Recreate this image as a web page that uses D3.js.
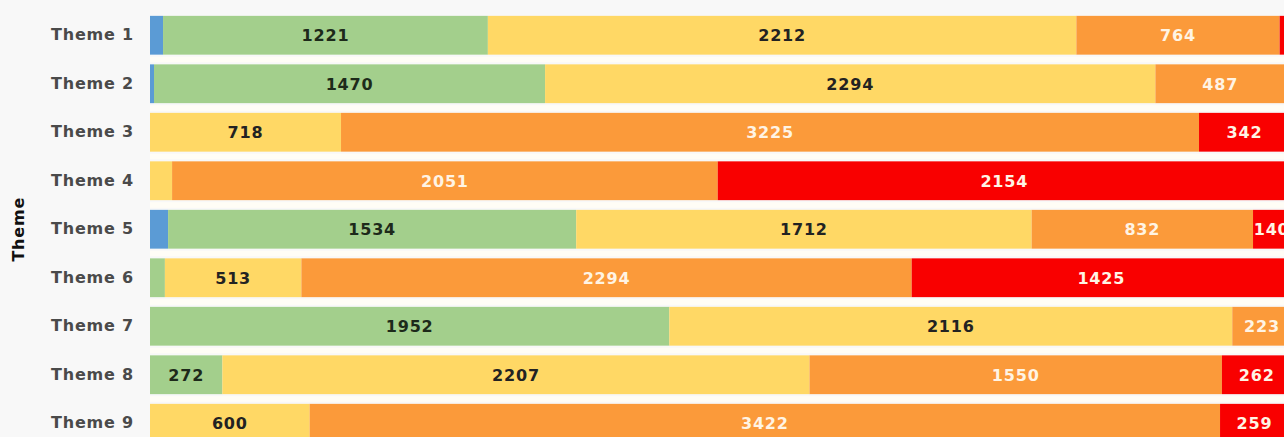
<!DOCTYPE html>
<html>
<head>
<meta charset="utf-8">
<script src="https://cdn.jsdelivr.net/npm/d3@7"></script>
<style>
body { margin: 0; background: #f8f8f8; overflow: hidden; }
text { font-family: "DejaVu Sans", sans-serif; font-weight: bold; }
</style>
</head>
<body>
<div class="chart"></div>
<script>
var themes = ["Theme 1", "Theme 2", "Theme 3", "Theme 4", "Theme 5", "Theme 6", "Theme 7", "Theme 8", "Theme 9"];
var blue   = [49, 15, 0, 0, 68, 0, 0, 0, 0];
var green  = [1221, 1470, 0, 0, 1534, 56, 1952, 272, 0];
var yellow = [2212, 2294, 718, 83, 1712, 513, 2116, 2207, 600];
var orange = [764, 487, 3225, 2051, 832, 2294, 223, 1550, 3422];
var red    = [44, 25, 342, 2154, 140, 1425, 0, 262, 259];
var xMax = 4300;

function drawBars()
{
var width  = 1284;
var height = 437;
var keys = ["blue", "green", "yellow", "orange", "red"];
var colors = {blue: "#5b9bd5", green: "#a3cf8c", yellow: "#ffd865", orange: "#fb9a3a", red: "#f90000"};
var textColor = {blue: "#222", green: "#1d2a1a", yellow: "#222", orange: "#fff4e4", red: "#fff4e4"};
var series = {blue: blue, green: green, yellow: yellow, orange: orange, red: red};

var rows = themes.map(function(t, i) {
	var r = {theme: t};
	keys.forEach(function(k) { r[k] = series[k][i]; });
	return r;
});

var svg = d3.select(".chart").append("svg").attr("width", width).attr("height", height);

var x = d3.scaleLinear().domain([0, xMax]).range([150, 1294]);
var y = d3.scaleBand().domain(themes).range([11, 447.5]).paddingInner(0.2).paddingOuter(0.1);

var stacked = d3.stack().keys(keys)(rows);

// white strips between the bars
svg.selectAll("rect.gap").data(themes.slice(1)).enter().append("rect").
	attr("class", "gap").
	attr("x", 150).
	attr("y", function(d) { return y(d) - y.step() * 0.2 + 2; }).
	attr("width", width - 150).
	attr("height", y.step() * 0.2 - 4).
	attr("fill", "#fffdf6");

var layer = svg.selectAll("g.layer").data(stacked).enter().append("g").
	attr("class", "layer").
	attr("fill", function(d) { return colors[d.key]; });

layer.selectAll("rect").data(function(d) { return d; }).enter().append("rect").
	attr("x", function(d) { return x(d[0]); }).
	attr("y", function(d) { return y(d.data.theme); }).
	attr("width", function(d) { return x(d[1]) - x(d[0]); }).
	attr("height", y.bandwidth());

// value labels, skipped on narrow pieces
stacked.forEach(function(s) {
	svg.append("g").selectAll("text").data(s.filter(function(d) { return x(d[1]) - x(d[0]) >= 30; })).enter().append("text").
		attr("x", function(d) { return (x(d[0]) + x(d[1])) / 2; }).
		attr("y", function(d) { return y(d.data.theme) + y.bandwidth() / 2; }).
		attr("dy", "0.36em").
		attr("text-anchor", "middle").
		attr("font-size", "16px").
		attr("letter-spacing", "0.8px").
		attr("fill", textColor[s.key]).
		text(function(d) { return d.data[s.key]; });
});

// category axis
var axis = d3.axisLeft(y).tickSize(0).tickPadding(0);
var g = svg.append("g").attr("transform", "translate(134,0)").call(axis);
g.select(".domain").remove();
g.selectAll("text").
	attr("font-size", "16px").
	attr("letter-spacing", "0.8px").
	attr("fill", "#4a4a4a").
	style("font-family", "DejaVu Sans").
	style("font-weight", "bold");

svg.append("text").
	attr("transform", "translate(18," + (y.range()[0] + y.range()[1]) / 2 + ") rotate(-90)").
	attr("dy", "0.36em").
	attr("text-anchor", "middle").
	attr("font-size", "16px").
	attr("letter-spacing", "0.8px").
	attr("fill", "#111").
	text("Theme");
}
drawBars();
</script>
</body>
</html>
